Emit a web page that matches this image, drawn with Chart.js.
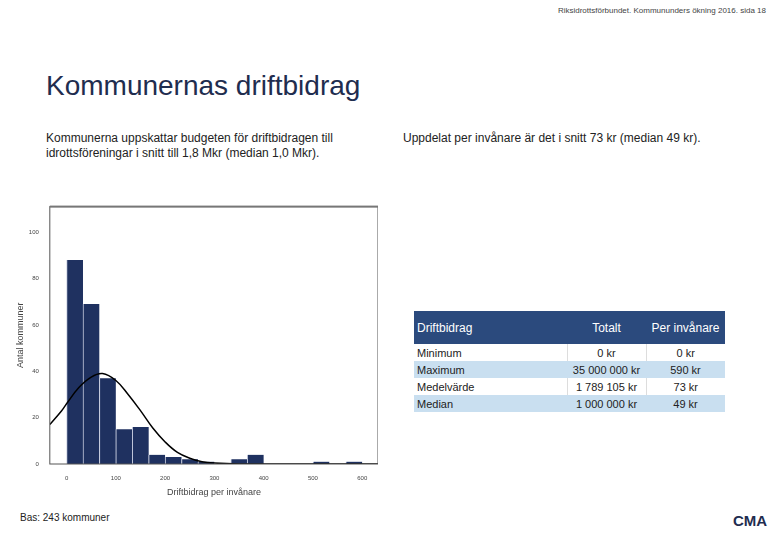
<!DOCTYPE html><html><head><meta charset="utf-8">
<script src="https://cdn.jsdelivr.net/npm/chart.js@4"></script>
<style>
body{margin:0;width:780px;height:540px;position:relative;font-family:"Liberation Sans",Arial,sans-serif;background:#fff;overflow:hidden}
.a{position:absolute}
table{border-collapse:collapse;font-size:11px;color:#222;table-layout:fixed}
td{height:17px;padding:0 3px}
</style></head><body>
<div class="a" style="right:14px;top:6px;font-size:8px;color:#444">Riksidrottsförbundet. Kommununders ökning 2016. sida 18</div>
<div class="a" style="left:46px;top:70px;font-size:28px;color:#1f2d4f">Kommunernas driftbidrag</div>
<div class="a" style="left:46px;top:131px;font-size:12px;color:#222;line-height:15px">Kommunerna uppskattar budgeten för driftbidragen till<br>idrottsföreningar i snitt till 1,8 Mkr (median 1,0 Mkr).</div>
<div class="a" style="left:403px;top:131px;font-size:12px;color:#222">Uppdelat per invånare är det i snitt 73 kr (median 49 kr).</div>
<div class="a" style="left:20px;top:512px;font-size:10px;color:#222">Bas: 243 kommuner</div>
<div class="a" style="left:733px;top:512px;font-size:15px;font-weight:bold;color:#1f2d4f">CMA</div>
<table class="a" style="left:414px;top:311px;width:311px">
<colgroup><col style="width:153px"><col style="width:79px"><col style="width:79px"></colgroup>
<tr style="background:#2b4a7d;color:#fff;height:33px"><td style="font-size:12px">Driftbidrag</td><td style="text-align:center;font-size:12px">Totalt</td><td style="text-align:center;font-size:12px">Per invånare</td></tr>
<tr><td>Minimum</td><td style="text-align:center;border-left:1px solid #ddd">0 kr</td><td style="text-align:center;border-left:1px solid #ddd">0 kr</td></tr>
<tr style="background:#c9dff0"><td>Maximum</td><td style="text-align:center">35 000 000 kr</td><td style="text-align:center">590 kr</td></tr>
<tr><td>Medelvärde</td><td style="text-align:center;border-left:1px solid #ddd">1 789 105 kr</td><td style="text-align:center;border-left:1px solid #ddd">73 kr</td></tr>
<tr style="background:#c9dff0"><td>Median</td><td style="text-align:center">1 000 000 kr</td><td style="text-align:center">49 kr</td></tr>
</table>
<div class="a" style="left:15px;top:200px;width:363px;height:300px"><canvas id="c"></canvas></div>
<script>
const binCenters=[16.7,50,83.3,116.7,150,183.3,216.7,250,283.3,350,383.3,516.7,583.3];
const counts=[88,69,37,15,16,4,3,2,1,2,4,1,1];
const curveX=[-34,-10,0,25,50,73,100,125,150,175,200,225,250,275,300,350,450,632];
const curveY=[17,23,26,33,37.5,39,36,30,23,15.5,9.5,5,2.5,1,0.4,0,0,0];
const xTicks=[0,100,200,300,400,500,600];
const yTicks=[0,20,40,60,80,100];
const frame={id:'frame',afterDraw(c){const a=c.chartArea,x=c.ctx;x.save();x.strokeStyle='#555';x.lineWidth=1;x.strokeRect(a.left,a.top,a.right-a.left,a.bottom-a.top);x.fillStyle='#777';x.fillRect(a.left,a.top-1,a.right-a.left,2);x.restore();}};
new Chart(document.getElementById('c'),{
data:{datasets:[
{type:'line',data:curveX.map((x,i)=>({x,y:curveY[i]})),borderColor:'#000',borderWidth:1.5,pointRadius:0,tension:0.4,fill:false},
{type:'bar',data:binCenters.map((x,i)=>({x,y:counts[i]})),backgroundColor:'#1f3160',borderColor:'#c8cde0',borderWidth:{left:1,right:0,top:0,bottom:0},barThickness:16.4}
]},
options:{responsive:true,maintainAspectRatio:false,animation:false,
layout:{padding:{left:0,right:0,top:4,bottom:0}},
plugins:{legend:{display:false},tooltip:{enabled:false}},
scales:{
x:{type:'linear',offset:false,min:-34,max:632,afterBuildTicks(s){s.ticks=xTicks.map(v=>({value:v}))},grid:{display:false,drawTicks:true},border:{display:false},ticks:{font:{size:6},color:'#444'},title:{display:true,text:'Driftbidrag per invånare',font:{size:9},color:'#444',padding:2}},
y:{min:0,max:111,afterBuildTicks(s){s.ticks=yTicks.map(v=>({value:v}))},grid:{display:false},border:{display:false},ticks:{font:{size:6},color:'#444'},title:{display:true,text:'Antal kommuner',font:{size:9},color:'#444',padding:0}}
}},plugins:[frame]});
</script></body></html>
